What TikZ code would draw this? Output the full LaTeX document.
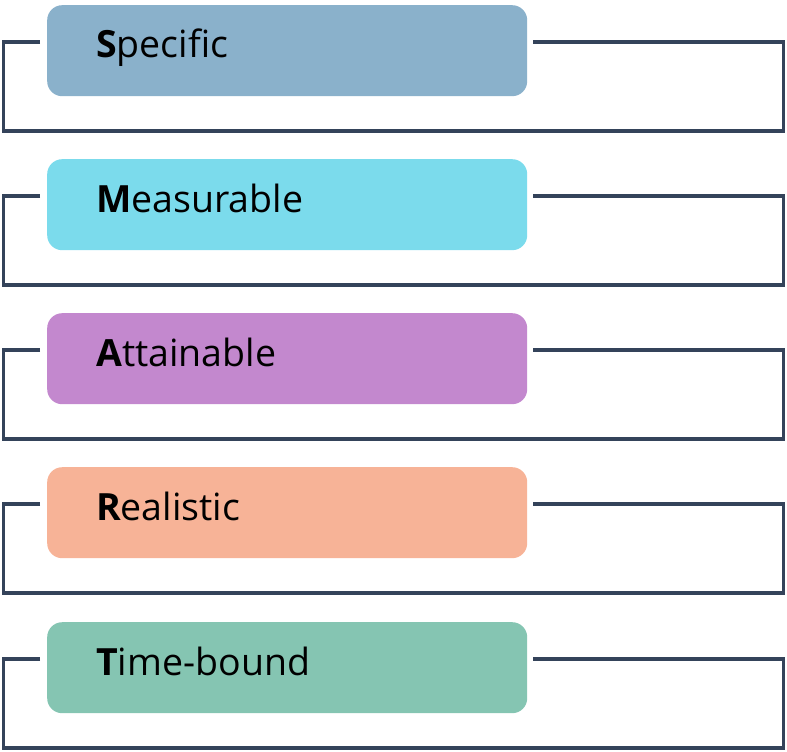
\documentclass[tikz,border=0pt]{standalone}
\usepackage{fontspec}
\setmainfont{Open Sans}
\definecolor{specblue}{HTML}{8AB1CB}
\definecolor{meascyan}{HTML}{7BDBEC}
\definecolor{attpurple}{HTML}{C388CE}
\definecolor{realorange}{HTML}{F7B397}
\definecolor{timegreen}{HTML}{85C5B2}
\definecolor{framegray}{HTML}{34435A}
\begin{document}
\begin{tikzpicture}[x=1pt, y=-1pt,
    goalbox/.style={rectangle, rounded corners=15pt, minimum width=480pt, minimum height=91pt, anchor=north west, inner sep=0pt},
    goaltext/.style={anchor=base west, inner sep=0pt, font=\fontsize{37.5}{44}\selectfont},
    frame/.style={line width=3.4pt, color=framegray}]
        \useasboundingbox (0,0) rectangle (787,752);

        \node[goalbox, fill=specblue] (spec) at (47,5) {};
        \node[goaltext] (spectxt) at (96,58) {\textbf{S}pecific};
        \draw[frame] (spec.north west) ++(-7,37) -- ++(-36.5,0) -- ++(0,89) -- ++(780,0) -- ++(0,-89) -- ++(-250.5,0);

        \node[goalbox, fill=meascyan] (meas) at (47,159) {};
        \node[goaltext] (meastxt) at (96,212) {\textbf{M}easurable};
        \draw[frame] (meas.north west) ++(-7,37) -- ++(-36.5,0) -- ++(0,89) -- ++(780,0) -- ++(0,-89) -- ++(-250.5,0);

        \node[goalbox, fill=attpurple] (att) at (47,313) {};
        \node[goaltext] (atttxt) at (96,366) {\textbf{A}ttainable};
        \draw[frame] (att.north west) ++(-7,37) -- ++(-36.5,0) -- ++(0,89) -- ++(780,0) -- ++(0,-89) -- ++(-250.5,0);

        \node[goalbox, fill=realorange] (real) at (47,467) {};
        \node[goaltext] (realtxt) at (96,520) {\textbf{R}ealistic};
        \draw[frame] (real.north west) ++(-7,37) -- ++(-36.5,0) -- ++(0,89) -- ++(780,0) -- ++(0,-89) -- ++(-250.5,0);

        \node[goalbox, fill=timegreen] (time) at (47,622) {};
        \node[goaltext] (timetxt) at (96,675) {\textbf{T}ime-bound};
        \draw[frame] (time.north west) ++(-7,37) -- ++(-36.5,0) -- ++(0,89) -- ++(780,0) -- ++(0,-89) -- ++(-250.5,0);
    \end{tikzpicture}
\end{document}
